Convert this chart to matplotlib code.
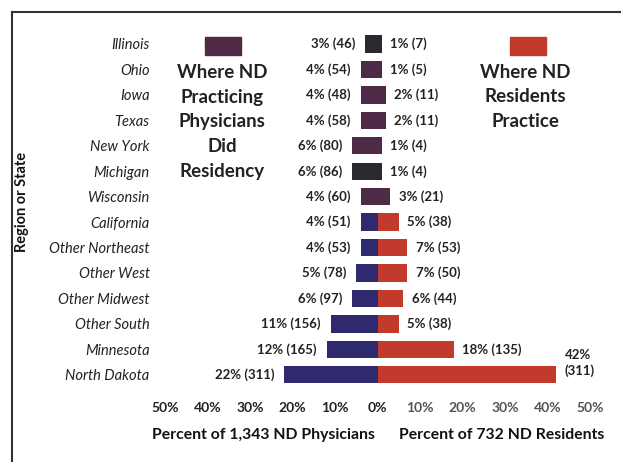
import matplotlib.pyplot as plt
from matplotlib.lines import Line2D
from matplotlib.patches import Rectangle

plt.rcParams['font.family'] = ['Lato', 'DejaVu Sans']

# data
regions = ['Illinois', 'Ohio', 'Iowa', 'Texas', 'New York', 'Michigan', 'Wisconsin',
           'California', 'Other Northeast', 'Other West', 'Other Midwest',
           'Other South', 'Minnesota', 'North Dakota']
phys_pct = [3, 4, 4, 4, 6, 6, 4, 4, 4, 5, 6, 11, 12, 22]
phys_n = [46, 54, 48, 58, 80, 86, 60, 51, 53, 78, 97, 156, 165, 311]
res_pct = [1, 1, 2, 2, 1, 1, 3, 5, 7, 7, 6, 5, 18, 42]
res_n = [7, 5, 11, 11, 4, 4, 21, 38, 53, 50, 44, 38, 135, 311]
ticks = [-50, -40, -30, -20, -10, 0, 10, 20, 30, 40, 50]

# scan colours: top rows came out purple / near black
purple = '#4f2a47'
dark = '#2a2a2e'
navy = '#2f2a6e'
red = '#c23a2c'
left_cols = [dark, purple, purple, purple, purple, dark, purple] + [navy] * 7
right_cols = [dark, purple, purple, purple, purple, dark, purple] + [red] * 7

W, H = 621, 462
fig = plt.figure(figsize=(W / 100, H / 100), dpi=100)
ax = fig.add_axes([165 / W, 1 - 390 / H, 425 / W, 360 / H])

y = list(range(len(regions)))
ax.barh(y, [-p for p in phys_pct], height=0.68, color=left_cols)
ax.barh(y, res_pct, height=0.68, color=right_cols)

lab = dict(fontsize=9.5, fontweight='bold', color='#222222', va='center')
for i in y:
    ax.text(-phys_pct[i] - 2.3, i, f'{phys_pct[i]}% ({phys_n[i]})', ha='right', **lab)
    if i == len(regions) - 1:
        ax.text(res_pct[i] + 2.0, i - 0.45, f'{res_pct[i]}%\n({res_n[i]})', ha='left',
                linespacing=1.35, **lab)
    else:
        ax.text(res_pct[i] + 2.0, i, f'{res_pct[i]}% ({res_n[i]})', ha='left', **lab)

ax.set_xlim(-50, 50)
ax.set_ylim(13.6, -0.55)
ax.set_yticks(y)
ax.set_yticklabels(regions, fontsize=10.5, fontstyle='italic', color='#222222')
ax.set_xticks(ticks)
ax.set_xticklabels([f'{abs(t)}%' for t in ticks], fontsize=10, fontweight='bold')
for t, lbl in zip(ticks, ax.get_xticklabels()):
    lbl.set_color('#222222' if t <= 0 else '#555555')
ax.tick_params(length=0)
ax.tick_params(axis='y', pad=11)
ax.tick_params(axis='x', pad=9)
for s in ax.spines.values():
    s.set_visible(False)

# axis titles
fig.text(263 / W, 1 - 435 / H, 'Percent of 1,343 ND Physicians', ha='center', va='center',
         fontsize=11.3, fontweight='bold', color='#111111')
fig.text(502 / W, 1 - 435 / H, 'Percent of 732 ND Residents', ha='center', va='center',
         fontsize=11.3, fontweight='bold', color='#111111')
fig.text(22 / W, 1 - 202 / H, 'Region or State', ha='center', va='center', rotation=90,
         fontsize=10.5, fontweight='bold', color='#111111')

# legend blocks
fig.add_artist(Rectangle((205 / W, 1 - 55 / H), 36 / W, 18 / H, color=purple,
                         transform=fig.transFigure))
fig.add_artist(Rectangle((510 / W, 1 - 55 / H), 36 / W, 18 / H, color=red,
                         transform=fig.transFigure))
fig.text(222 / W, 1 - 122 / H, 'Where ND\nPracticing\nPhysicians\nDid\nResidency',
         ha='center', va='center', fontsize=13.5, fontweight='bold', color='#222222',
         linespacing=1.55)
fig.text(525 / W, 1 - 97 / H, 'Where ND\nResidents\nPractice', ha='center', va='center',
         fontsize=13.5, fontweight='bold', color='#222222', linespacing=1.55)

# frame of the scanned figure
fig.add_artist(Line2D([12 / W, 12 / W], [0, 1 - 12 / H], color='#333333', lw=1.5,
                      transform=fig.transFigure))
fig.add_artist(Line2D([12 / W, 1], [1 - 12 / H, 1 - 12 / H], color='#333333', lw=1.5,
                      transform=fig.transFigure))

fig.savefig('out.png', dpi=100)
